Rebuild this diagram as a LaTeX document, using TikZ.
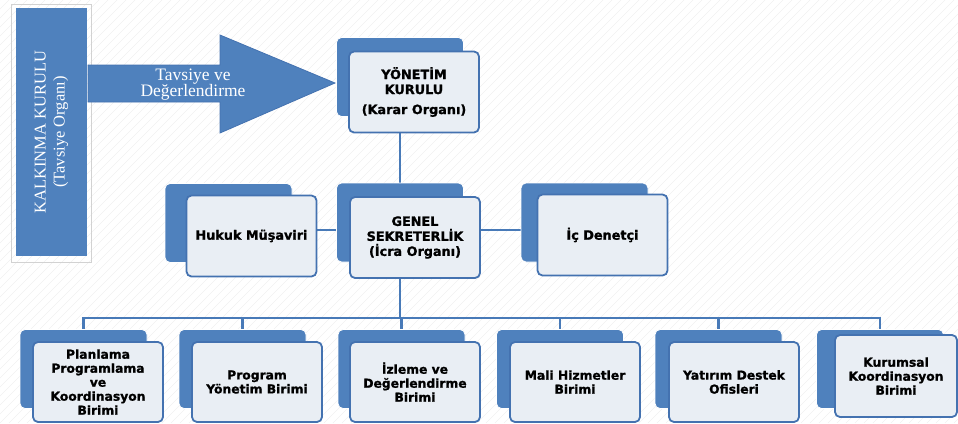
\documentclass[tikz,border=0pt]{standalone}
\usepackage{fontspec}
\setmainfont{Liberation Serif}
\newfontfamily\boxfont[BoldFeatures={FakeBold=1.2}]{DejaVu Sans}
\usetikzlibrary{backgrounds}

\definecolor{orgblue}{RGB}{79,129,189}
\definecolor{orgedge}{RGB}{68,114,176}
\definecolor{orgfill}{RGB}{233,238,244}
\definecolor{orgline}{RGB}{72,122,184}
\definecolor{hatchgray}{RGB}{240,240,240}

\tikzset{
  backbox/.style={rectangle, rounded corners=5pt, fill=orgblue, draw=white, line width=0.8pt,
    minimum width=127pt, minimum height=79pt, inner sep=0pt},
  frontbox/.style={rectangle, rounded corners=5pt, fill=orgfill, draw=orgedge, line width=1.8pt,
    minimum width=130pt, minimum height=81pt, inner sep=2pt, align=center,
    font=\boxfont\bfseries\fontsize{12.8}{15}\selectfont},
  unitbox/.style={frontbox, minimum height=80pt, font=\boxfont\bfseries\fontsize{12.3}{14}\selectfont},
  orglink/.style={draw=orgline, line width=2.4pt, line cap=rect},
}

\begin{document}
\begin{tikzpicture}[x=1pt,y=1pt,yscale=-1]
\useasboundingbox (0,0) rectangle (958,423);

%Shape: Kalkinma Kurulu
\node [draw=gray!35, line width=0.6pt, minimum width=80pt, minimum height=258pt] (kkframe) at (51,133) {};
\node [fill=orgblue, minimum width=71pt, minimum height=248pt, inner sep=0pt] (kk) at (51.5,132) {};
\node [rotate=90, text=white, align=center, font=\fontsize{16.5}{19}\selectfont] (kktext) at (kk.center) {KALKINMA KURULU\\(Tavsiye Organı)};

%Shape: Big Arrow
\draw [fill=orgblue, draw=orgedge, line width=0.8pt] (88,65) -- (220,65) -- (220,35) -- (335,83) -- (220,133) -- (220,102) -- (88,102) -- cycle ;
% Text Node
\node [text=white, align=center, font=\fontsize{17.5}{16}\selectfont] (arrowtext) at (193,85) {Tavsiye ve\\Değerlendirme};

%Shape: Yonetim Kurulu
\node [backbox] (ykb) at (400,77) {};
\node [frontbox] (yk) at (414,92) {YÖNETİM\\KURULU\\[5pt](Karar Organı)};

%Shape: Genel Sekreterlik
\node [backbox] (gsb) at (400,222.5) {};
\node [frontbox] (gs) at (415,237.5) {GENEL\\SEKRETERLİK\\(İcra Organı)};

%Shape: Hukuk Musaviri
\node [backbox] (hmb) at (228.5,223) {};
\node [frontbox] (hm) at (251.5,236) {Hukuk Müşaviri};

%Shape: Ic Denetci
\node [backbox] (idb) at (584.5,222.5) {};
\node [frontbox] (id) at (602.5,235) {İç Denetçi};

%Shape: Birimler
\node [backbox] (u1b) at (83.5,369) {};
\node [unitbox] (u1) at (98,382) {Planlama\\Programlama\\ve\\Koordinasyon\\Birimi};
\node [backbox] (u2b) at (242.5,369) {};
\node [unitbox] (u2) at (257,382) {Program\\Yönetim Birimi};
\node [backbox] (u3b) at (401.5,369) {};
\node [unitbox] (u3) at (415,382) {İzleme ve\\Değerlendirme\\Birimi};
\node [backbox] (u4b) at (560,369) {};
\node [unitbox] (u4) at (575,382) {Mali Hizmetler\\Birimi};
\node [backbox] (u5b) at (718.5,369) {};
\node [unitbox] (u5) at (734,382) {Yatırım Destek\\Ofisleri};
\node [backbox] (u6b) at (880,369) {};
\node [unitbox, minimum width=122pt, minimum height=82pt] (u6) at (896,376) {Kurumsal\\Koordinasyon\\Birimi};

\begin{scope}[on background layer]
% background hatching
\begin{scope}
\clip (0,0) rectangle (958,423);
\foreach \i in {0,9,...,1390} \draw [hatchgray, line width=0.5pt] (\i,0) -- (\i-423,423);
\end{scope}
%Straight Lines
\coordinate (midbus) at (400,230);
\coordinate (bus) at (400,318);
\draw [orglink] (ykb.south) -- (gsb.north);
\draw [orglink] (hm.center |- midbus) -- (id.center |- midbus);
\draw [orglink] (gsb.south) -- (gsb.south |- bus);
\draw [orglink] (u1b.north |- bus) -- (u6b.north |- bus);
\foreach \u in {u1b,u2b,u3b,u4b,u5b,u6b} \draw [orglink] (\u.north) -- (\u.north |- bus);
\end{scope}

\end{tikzpicture}
\end{document}
